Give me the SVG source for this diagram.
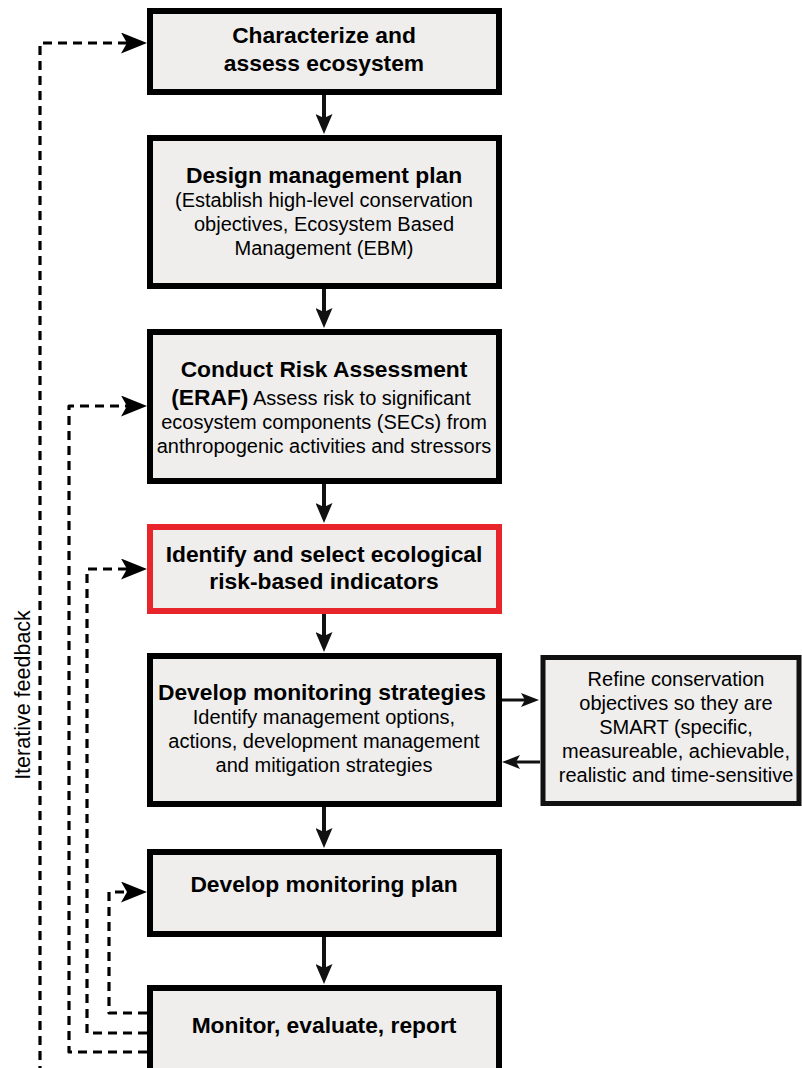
<svg xmlns="http://www.w3.org/2000/svg" width="802" height="1068" viewBox="0 0 802 1068">
<style>
.box{fill:#efeeed;stroke:#000;stroke-width:6}
.red{fill:#efeeed;stroke:#e8252a;stroke-width:6}
.side{fill:#efeeed;stroke:#111;stroke-width:5}
text{font-family:"Liberation Sans",Arial,sans-serif;fill:#000;text-anchor:middle}
.t{font-size:22.8px;font-weight:bold}
.r{font-size:20px}
.b{font-weight:bold;font-size:22.8px}
.solid{fill:none;stroke:#111;stroke-width:4}
.thin{fill:none;stroke:#111;stroke-width:3}
.dash{fill:none;stroke:#000;stroke-width:3.2;stroke-dasharray:9 6;stroke-linejoin:round}
</style>
<defs>
<marker id="ah" markerUnits="userSpaceOnUse" viewBox="0 0 20 17" markerWidth="20" markerHeight="17" refX="10" refY="8.5" orient="auto"><path d="M0,0 L20,8.5 L0,17 L4,8.5 z" fill="#111"/></marker>
<marker id="sh" markerUnits="userSpaceOnUse" viewBox="0 0 18 14" markerWidth="18" markerHeight="14" refX="9" refY="7" orient="auto"><path d="M0,0 L18,7 L0,14 L4,7 z" fill="#111"/></marker>
<marker id="dh" markerUnits="userSpaceOnUse" viewBox="0 0 26 21" markerWidth="26" markerHeight="21" refX="10" refY="10.5" orient="auto"><path d="M0,0 L26,10.5 L0,21 L6,10.5 z" fill="#000"/></marker>
</defs>

<g id="connectors">
<path class="solid" d="M324,95 V124" marker-end="url(#ah)"/>
<path class="solid" d="M324,289 V318" marker-end="url(#ah)"/>
<path class="solid" d="M324,484 V513" marker-end="url(#ah)"/>
<path class="solid" d="M324,614 V642" marker-end="url(#ah)"/>
<path class="solid" d="M324,807 V838" marker-end="url(#ah)"/>
<path class="solid" d="M324,937 V974" marker-end="url(#ah)"/>
<path class="thin" d="M502,700 H530" marker-end="url(#sh)"/>
<path class="thin" d="M540,762 H511" marker-end="url(#sh)"/>
<path class="dash" d="M40,1075 V43 H131" marker-end="url(#dh)"/>
<path class="dash" d="M147,1052 H69 V406 H131" marker-end="url(#dh)"/>
<path class="dash" d="M147,1033 H87 V569 H131" marker-end="url(#dh)"/>
<path class="dash" d="M147,1013 H109 V892 H131" marker-end="url(#dh)"/>
</g>

<text id="feedback-label" style="font-size:21.5px" transform="translate(30,695) rotate(-90)">Iterative feedback</text>

<g id="characterize">
<rect class="box" x="150" y="11" width="349" height="81"/>
<text class="t" x="324" y="43">Characterize and</text>
<text class="t" x="324" y="71">assess ecosystem</text>
</g>

<g id="design">
<rect class="box" x="150" y="138" width="349" height="148"/>
<text class="t" x="324" y="183">Design management plan</text>
<text class="r" x="324" y="207">(Establish high-level conservation</text>
<text class="r" x="324" y="231">objectives, Ecosystem Based</text>
<text class="r" x="324" y="255">Management (EBM)</text>
</g>

<g id="risk">
<rect class="box" x="150" y="332" width="349" height="149"/>
<text class="t" x="324" y="377">Conduct Risk Assessment</text>
<text class="r" x="321" y="405"><tspan class="b">(ERAF)</tspan> Assess risk to significant</text>
<text class="r" x="324" y="429">ecosystem components (SECs) from</text>
<text class="r" x="324" y="453">anthropogenic activities and stressors</text>
</g>

<g id="indicators">
<rect class="red" x="150" y="527" width="349" height="84"/>
<text class="t" x="324" y="562">Identify and select ecological</text>
<text class="t" x="324" y="589">risk-based indicators</text>
</g>

<g id="strategies">
<rect class="box" x="150" y="656" width="349" height="148"/>
<text class="t" x="322" y="700">Develop monitoring strategies</text>
<text class="r" x="324" y="724">Identify management options,</text>
<text class="r" x="324" y="748">actions, development management</text>
<text class="r" x="324" y="772">and mitigation strategies</text>
</g>

<g id="smart">
<rect class="side" x="543" y="657.5" width="256" height="146"/>
<text class="r" x="676" y="686">Refine conservation</text>
<text class="r" x="676" y="710">objectives so they are</text>
<text class="r" x="676" y="734">SMART (specific,</text>
<text class="r" x="676" y="758">measureable, achievable,</text>
<text class="r" x="676" y="782">realistic and time-sensitive</text>
</g>

<g id="plan">
<rect class="box" x="150" y="852" width="349" height="82"/>
<text class="t" x="324" y="892">Develop monitoring plan</text>
</g>

<g id="monitor">
<rect class="box" x="150" y="988" width="349" height="100"/>
<text class="t" x="324" y="1033">Monitor, evaluate, report</text>
</g>
</svg>
